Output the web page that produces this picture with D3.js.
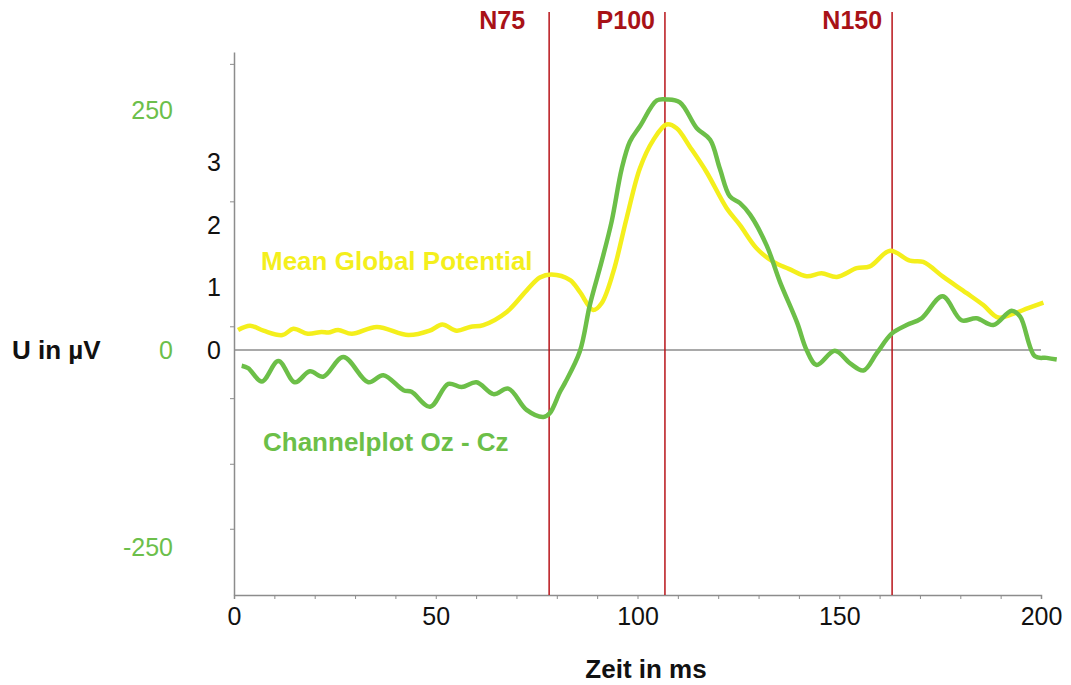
<!DOCTYPE html>
<html>
<head>
<meta charset="utf-8">
<script src="https://cdn.jsdelivr.net/npm/d3@7"></script>
<style>
  body { margin: 0; background: #fff; }
  svg text { font-family: "Liberation Sans", Arial, sans-serif; }
</style>
</head>
<body>
<svg id="chart" width="1071" height="685"></svg>
<script>
// Mean Global Potential (black axis units), [time ms, value]
const meanGlobal = [
  [1, 0.32], [4, 0.39], [7.3, 0.31], [12, 0.24], [14.7, 0.34], [18.3, 0.26],
  [21.7, 0.29], [23.4, 0.28], [25.8, 0.32], [29.2, 0.26], [35.4, 0.37],
  [43.2, 0.24], [48.5, 0.31], [51.6, 0.41], [55.2, 0.31], [58.5, 0.37],
  [61.8, 0.40], [67.6, 0.61], [72.6, 0.96], [75.8, 1.16], [78.7, 1.21],
  [83.3, 1.12], [85.7, 0.93], [89, 0.64], [91.1, 0.75], [94, 1.25],
  [97.3, 2.11], [100.6, 2.91], [103.9, 3.36], [107.2, 3.61], [109.7, 3.55],
  [113, 3.25], [117.1, 2.85], [122.1, 2.27], [125.4, 2.0], [129.5, 1.63],
  [133.7, 1.41], [137.5, 1.30], [141.9, 1.18], [145.6, 1.23], [149.4, 1.17],
  [154.3, 1.31], [157.6, 1.34], [162.6, 1.59], [167.5, 1.43], [170.8, 1.41],
  [175.8, 1.17], [181.6, 0.91], [185.7, 0.72], [189.4, 0.52], [193.1, 0.58],
  [196.8, 0.67], [200.6, 0.76]
];

// Channelplot Oz - Cz (green axis units, µV), [time ms, value]
const channelOzCz = [
  [1.9, -20], [3.5, -23], [6.9, -40], [11, -14], [15.1, -41], [18.8, -27],
  [22.1, -34], [27.1, -9], [33.3, -41], [37, -32], [42, -51], [44, -53],
  [48.6, -72], [53.1, -43], [56.4, -47], [60.1, -41], [64.3, -56], [68, -49],
  [72.5, -76], [76.7, -85], [78.3, -80], [80.8, -53], [82, -42], [85.7, -2],
  [88.2, 47], [91.1, 92], [93.6, 134], [96.1, 189], [98.1, 217], [100.6, 233],
  [104.8, 260], [107.2, 261], [110.5, 258], [114.7, 231], [118, 219],
  [120.4, 189], [122.9, 160], [125.4, 153], [127.9, 141], [132, 109],
  [135.3, 71], [139.6, 28], [141.9, 0], [144.4, -19], [148.9, -1], [152.7, -17],
  [156, -26], [159.3, -4], [163, 17], [166.7, 26], [170.4, 33], [175.6, 56],
  [180.3, 31], [184, 33], [188.2, 26], [192.7, 41], [194.8, 35], [198.5, -8],
  [201.4, -10], [203.9, -12]
];

// Component markers
const markerNames = ["N75", "P100", "N150"];
const markerTimes = [78.1, 106.8, 163.1];

// Tick values
const xTickLabels = [0, 50, 100, 150, 200];
const xMinorTicks = d3.range(0, 201, 10);
const yTickLabels = [0, 1, 2, 3];
const yMinorTicks = [4.58, 2.38, 0.38, -0.77, -1.82, -2.86];
const greenTickLabels = [250, 0, -250];

const svg = d3.select("#chart");

const x = d3.scaleLinear().domain([0, 200]).range([234, 1041]);
const y = d3.scaleLinear().domain([-3.92, 4.77]).range([595, 52]);
// green axis is drawn with uneven spacing above and below zero
const yGreen = d3.scaleLinear().domain([-250, 0, 250]).range([547, 350, 110]);

const axisColor = "#8c8c8c";
const markerGap = [24, 10, 10]; // label distance left of each marker line

// x axis
const xAxis = svg.append("g")
  .attr("transform", `translate(0,${y(-3.92)})`)
  .call(d3.axisBottom(x).tickValues(xMinorTicks).tickSize(4).tickFormat(""));
xAxis.select(".domain").attr("stroke", axisColor).attr("stroke-width", 1.5);
xAxis.selectAll(".tick line").attr("stroke", axisColor);

const xLabels = svg.append("g")
  .attr("transform", `translate(0,${y(-3.92)})`)
  .call(d3.axisBottom(x).tickValues(xTickLabels).tickSize(0).tickPadding(12).tickFormat(d3.format("d")));
xLabels.select(".domain").remove();
xLabels.selectAll("text").attr("font-size", 25).attr("fill", "#111")
  .attr("font-family", "Liberation Sans, Arial, sans-serif");

// y axis (line + minor ticks)
const yAxis = svg.append("g")
  .attr("transform", `translate(${x(0)},0)`)
  .call(d3.axisLeft(y).tickValues(yMinorTicks).tickSize(4).tickSizeOuter(0).tickFormat(""));
yAxis.select(".domain").attr("stroke", axisColor).attr("stroke-width", 1.5);
yAxis.selectAll(".tick line").attr("stroke", axisColor);

// black y labels
const yLabels = svg.append("g")
  .attr("transform", `translate(${x(0)},0)`)
  .call(d3.axisLeft(y).tickValues(yTickLabels).tickSize(0).tickPadding(13).tickFormat(d3.format("d")));
yLabels.select(".domain").remove();
yLabels.selectAll("text").attr("font-size", 25).attr("fill", "#111")
  .attr("font-family", "Liberation Sans, Arial, sans-serif");

// green y labels
svg.append("g").selectAll("text")
  .data(greenTickLabels)
  .join("text")
  .attr("x", 173)
  .attr("y", d => yGreen(d))
  .attr("dy", "0.35em")
  .attr("text-anchor", "end")
  .attr("font-size", 25)
  .attr("fill", "#6cbf4b")
  .text(d => d);

// zero line
svg.append("line")
  .attr("x1", x(0)).attr("x2", x(200))
  .attr("y1", y(0)).attr("y2", y(0))
  .attr("stroke", axisColor).attr("stroke-width", 1.5);

// marker lines
const markers = svg.append("g").selectAll("g")
  .data(markerTimes)
  .join("g");
markers.append("line")
  .attr("x1", d => x(d)).attr("x2", d => x(d))
  .attr("y1", 12).attr("y2", y(-3.92))
  .attr("stroke", "#b8141a").attr("stroke-width", 1.5);
markers.append("text")
  .attr("x", (d, i) => x(d) - markerGap[i])
  .attr("y", 29)
  .attr("text-anchor", "end")
  .attr("font-size", 25)
  .attr("font-weight", "bold")
  .attr("fill", "#a81217")
  .text((d, i) => markerNames[i]);

// curves
const lineMean = d3.line()
  .x(d => x(d[0])).y(d => y(d[1]))
  .curve(d3.curveCatmullRom.alpha(0.5));
const lineChannel = d3.line()
  .x(d => x(d[0])).y(d => yGreen(d[1]))
  .curve(d3.curveCatmullRom.alpha(0.5));

svg.append("path")
  .datum(meanGlobal)
  .attr("d", lineMean)
  .attr("fill", "none")
  .attr("stroke", "#f4ef1c")
  .attr("stroke-width", 4.5)
  .attr("stroke-linejoin", "round");

svg.append("path")
  .datum(channelOzCz)
  .attr("d", lineChannel)
  .attr("fill", "none")
  .attr("stroke", "#6cbf48")
  .attr("stroke-width", 4.5)
  .attr("stroke-linejoin", "round");

// series labels
svg.append("text")
  .attr("x", 261).attr("y", 270)
  .attr("font-size", 26).attr("font-weight", "bold")
  .attr("fill", "#f4ef1c")
  .text("Mean Global Potential");

svg.append("text")
  .attr("x", 263).attr("y", 451)
  .attr("font-size", 26).attr("font-weight", "bold")
  .attr("fill", "#6cbf48")
  .text("Channelplot Oz - Cz");

// axis titles
svg.append("text")
  .attr("x", 12).attr("y", 359)
  .attr("font-size", 26).attr("font-weight", "bold")
  .attr("fill", "#111")
  .text("U in µV");

svg.append("text")
  .attr("x", 646).attr("y", 678)
  .attr("text-anchor", "middle")
  .attr("font-size", 26).attr("font-weight", "bold")
  .attr("fill", "#111")
  .text("Zeit in ms");
</script>
</body>
</html>
